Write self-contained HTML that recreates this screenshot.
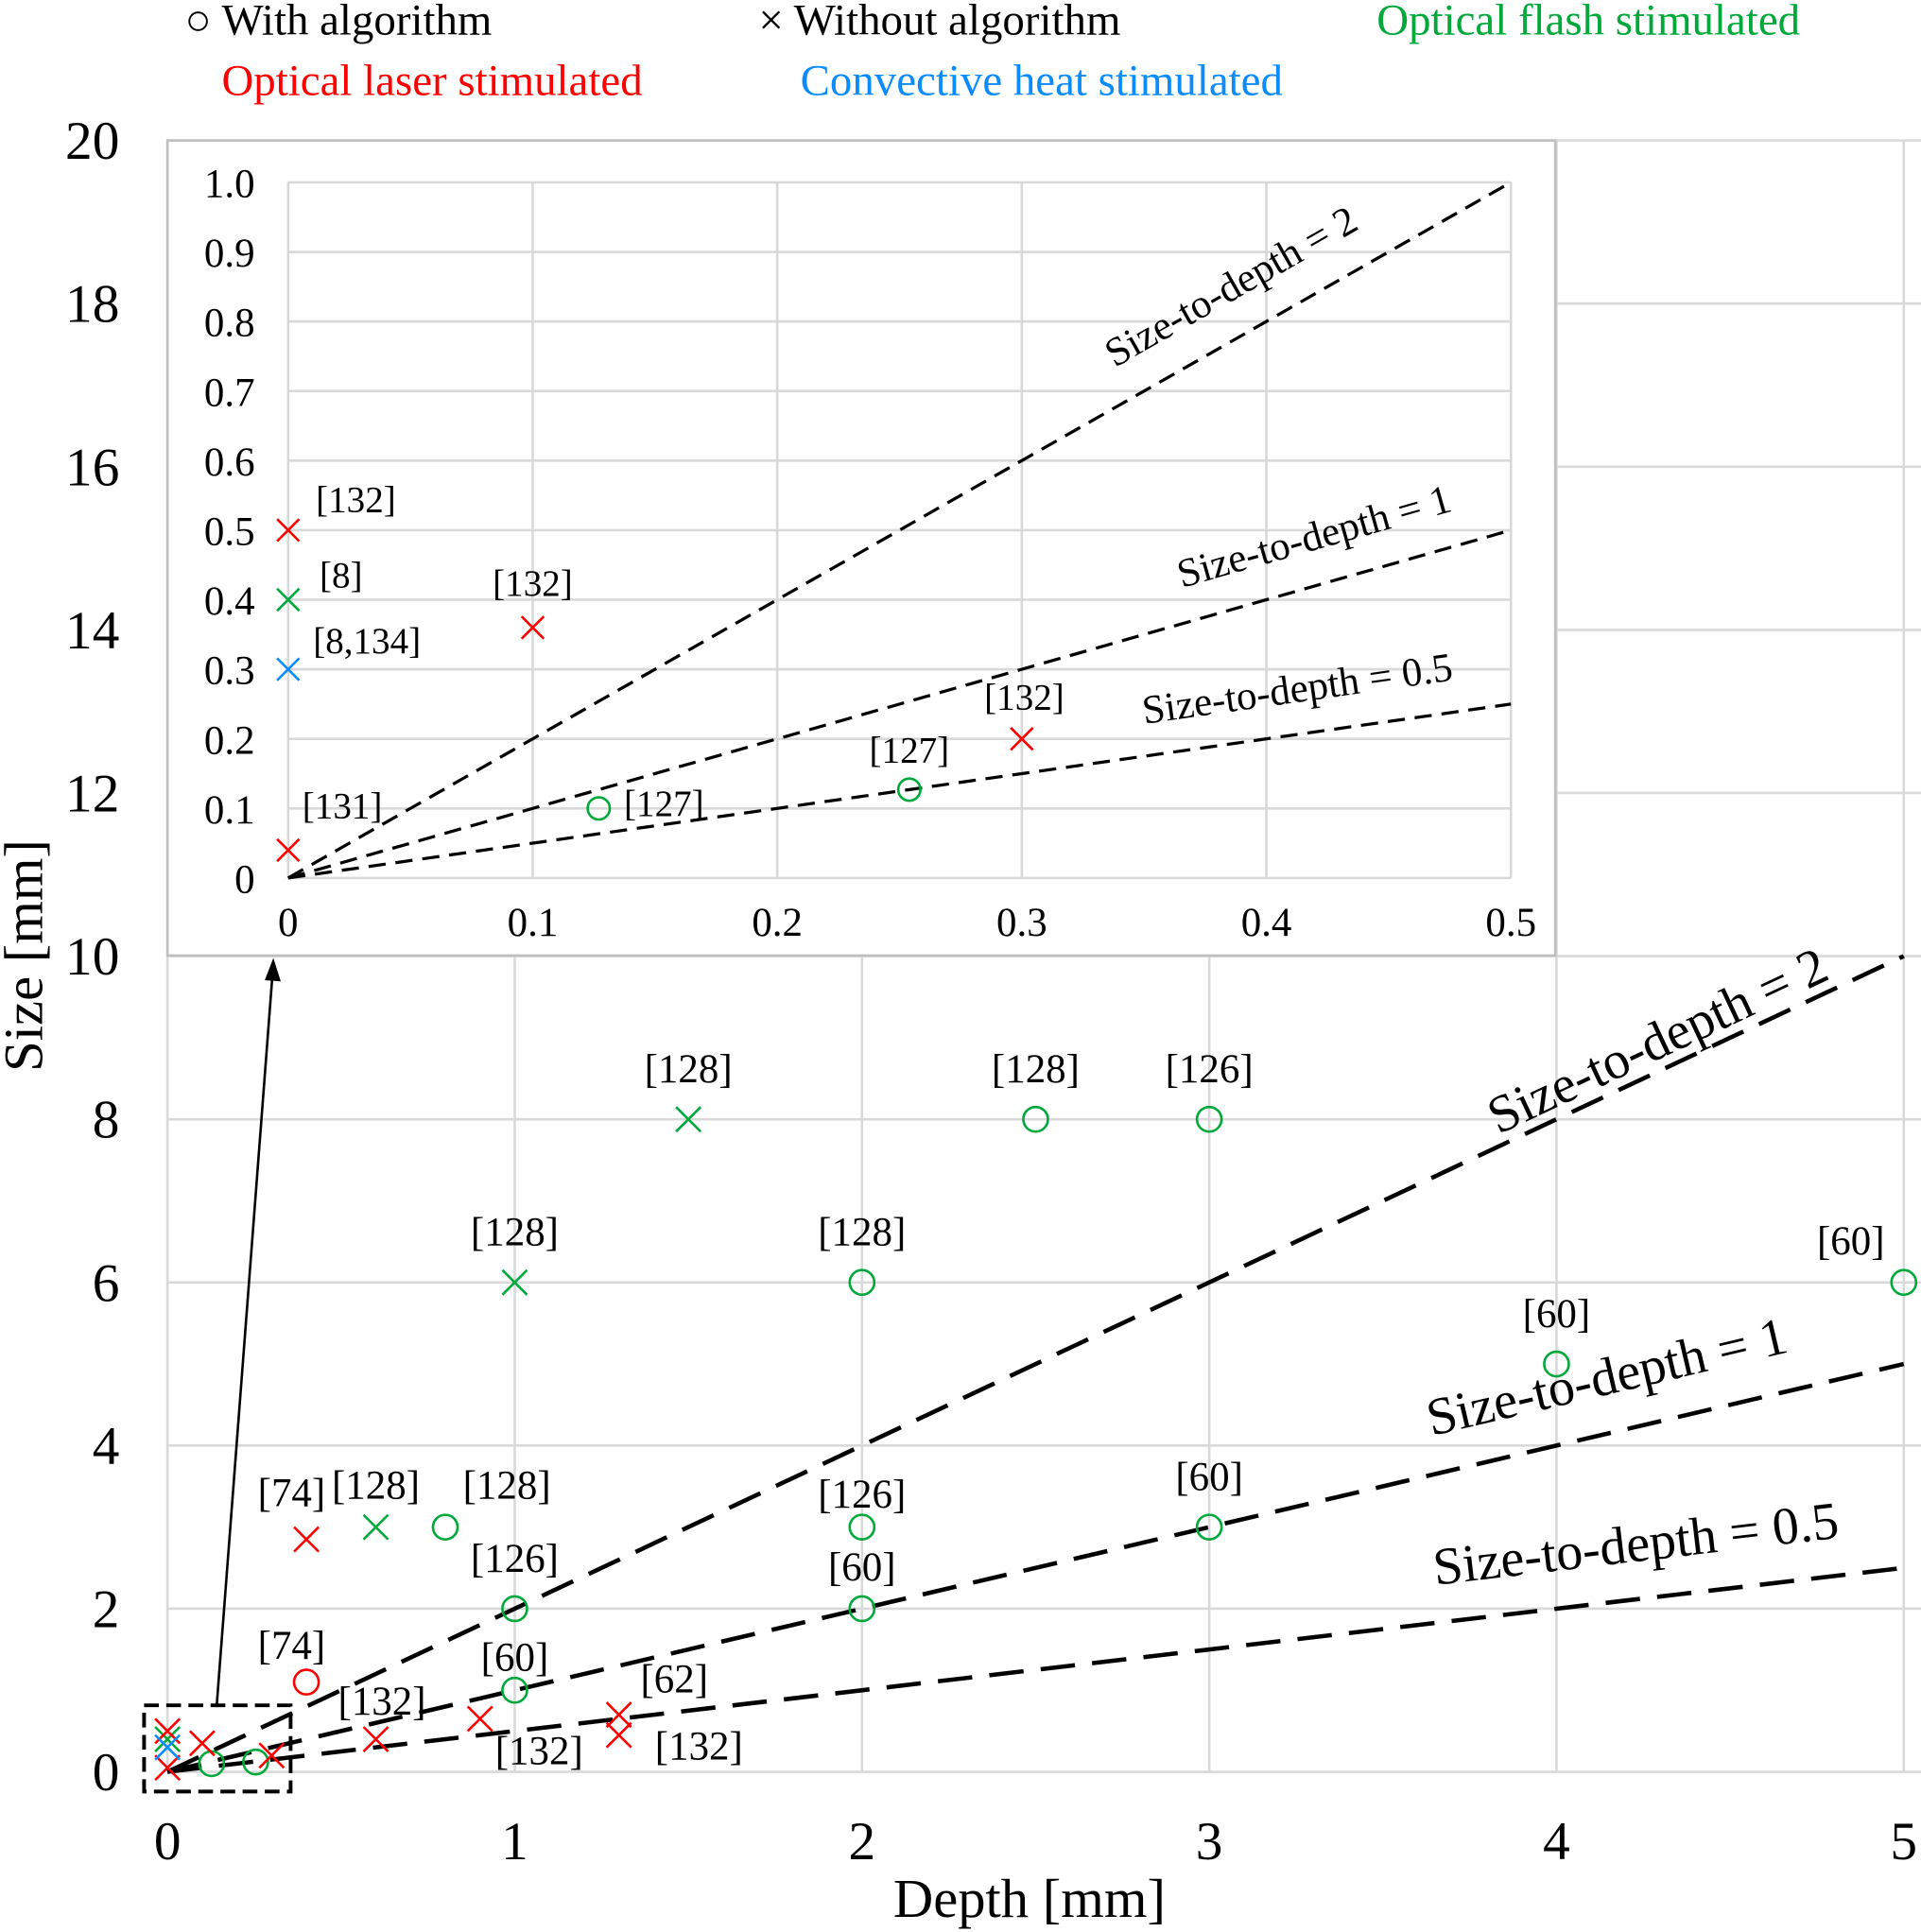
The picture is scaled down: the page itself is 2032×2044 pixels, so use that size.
<!DOCTYPE html>
<html><head><meta charset="utf-8"><style>
html,body{margin:0;padding:0;background:#fff}
svg{display:block;font-family:"Liberation Serif",serif}
</style></head><body>
<svg id="chart" width="2032" height="2044" viewBox="0 0 1560 1569" xmlns="http://www.w3.org/2000/svg">
<g font-size="36">
<text x="150" y="28">○ With algorithm</text>
<text x="616" y="28">× Without algorithm</text>
<text x="1118" y="28" fill="#00a93a">Optical flash stimulated</text>
<text x="180" y="77" fill="#ff0000">Optical laser stimulated</text>
<text x="650" y="77" fill="#0a8cff">Convective heat stimulated</text>
</g>
<g id="main"></g>
<g id="inset"></g>
</svg>
<script>
const NS="http://www.w3.org/2000/svg";
// main chart data
const mainXTicks=[0,1,2,3,4,5];
const mainYTicks=[0,2,4,6,8,10,12,14,16,18,20];
const ratios=[2,1,0.5];
const ratioLabels=["Size-to-depth = 2","Size-to-depth = 1","Size-to-depth = 0.5"];
const mDepth=[2.5,3,2,5,4,0.8,2,3,1,2,1,0.127,0.254,1.5,1,0.6,0,0.4,0.6,0.9,1.3,1.3,0.1,0.3,0,0,0.4,0];
const mSize=[8,8,6,6,5,3,3,3,2,2,1,0.1,0.12,8,6,3,0.4,2.85,0.4,0.65,0.7,0.45,0.35,0.2,0.5,0.05,1.1,0.3];
const mShape=["o","o","o","o","o","o","o","o","o","o","o","o","o","x","x","x","x","x","x","x","x","x","x","x","x","x","o","x"];
const mColor=["g","g","g","g","g","g","g","g","g","g","g","g","g","g","g","g","g","r","r","r","r","r","r","r","r","r","r","b"];
const mLabel=["[128]","[126]","[128]","[60]","[60]","[128]","[126]","[60]","[126]","[60]","[60]","","","[128]","[128]","[128]","","[74]","[132]","[132]","[62]","[132]","","","","","[74]",""];
const mLdx=[0,0,0,-43,0,50,0,0,0,0,0,0,0,0,0,0,0,-12,5,48,45,65,0,0,0,0,-12,0];
const mLdy=[-30,-30,-30,-23,-30,-23,-16,-30,-30,-23,-16,0,0,-30,-30,-23,0,-27,-20,37,-18,20,0,0,0,0,-19,0];
// inset data
const iXTicks=[0,0.1,0.2,0.3,0.4,0.5];
const iYTicks=[0,0.1,0.2,0.3,0.4,0.5,0.6,0.7,0.8,0.9,1.0];
const iYTickLabels=["0","0.1","0.2","0.3","0.4","0.5","0.6","0.7","0.8","0.9","1.0"];
const iDepth=[0,0,0,0,0.1,0.127,0.254,0.3];
const iSize=[0.5,0.4,0.3,0.04,0.36,0.1,0.127,0.2];
const iShape=["x","x","x","x","x","o","o","x"];
const iColor=["r","g","b","r","r","g","g","r"];
const iLabel=["[132]","[8]","[8,134]","[131]","[132]","[127]","[127]","[132]"];
const iLdx=[55,43,64,44,0,53,0,2];
const iLdy=[-15,-10,-13,-26,-26,6,-22,-24];

const COL={g:"#00a93a",r:"#ff0000",b:"#0a8cff"};
const mx=v=>136+v*282, my=v=>1439-v*66.25;
const ix=v=>234+v*1986, iy=v=>713-v*565;
function el(t,a,p,txt){const e=document.createElementNS(NS,t);for(const k in a)e.setAttribute(k,a[k]);if(txt!==undefined)e.textContent=txt;p.appendChild(e);return e;}
function marker(g,shape,x,y,c,r){
 if(shape==="o"){const e=el("circle",{cx:x,cy:y,r:r,fill:"none",stroke:c,"stroke-width":2},g);
 }
 else{const e=el("path",{d:`M${x-r} ${y-r}L${x+r} ${y+r}M${x-r} ${y+r}L${x+r} ${y-r}`,stroke:c,"stroke-width":2,fill:"none"},g);
 }
}
const M=document.getElementById("main");


mainYTicks.forEach(v=>{const l=el("line",{x1:136,x2:1560,y1:my(v),y2:my(v),stroke:"#d9d9d9","stroke-width":2},M);
 
 const t=el("text",{x:97,y:my(v)+15,"font-size":44,"text-anchor":"end"},M,String(v));
 });
mainXTicks.forEach(v=>{const l=el("line",{x1:mx(v),x2:mx(v),y1:114,y2:1439,stroke:"#d9d9d9","stroke-width":2},M);
 
 const t=el("text",{x:mx(v),y:1510,"font-size":44,"text-anchor":"middle"},M,String(v));
 });
let t=el("text",{x:836,y:1557,"font-size":45,"text-anchor":"middle"},M,"Depth [mm]");

t=el("text",{x:0,y:0,"font-size":45,"text-anchor":"middle",transform:"translate(34,776) rotate(-90)"},M,"Size [mm]");

const mLabPos=[[1352,858],[1308,1132],[1330,1268]];
ratios.forEach((r,i)=>{const l=el("line",{x1:mx(0),y1:my(0),x2:mx(5),y2:my(5*r),stroke:"#000","stroke-width":3.5,"stroke-dasharray":"28 14"},M);
 
 const ang=Math.atan2(my(5*r)-my(0),mx(5)-mx(0))*180/Math.PI;
 const tt=el("text",{x:mLabPos[i][0],y:mLabPos[i][1],"font-size":43,"text-anchor":"middle",transform:`rotate(${ang} ${mLabPos[i][0]} ${mLabPos[i][1]})`},M,ratioLabels[i]);
 });
mDepth.forEach((d,i)=>{const x=mx(d),y=my(mSize[i]);marker(M,mShape[i],x,y,COL[mColor[i]],10);
 if(mLabel[i]){const tt=el("text",{x:x+mLdx[i],y:y+mLdy[i],"font-size":33,"text-anchor":"middle"},M,mLabel[i]);
 }});
let b=el("rect",{x:117,y:1385,width:119,height:70,fill:"none",stroke:"#000","stroke-width":3,"stroke-dasharray":"12 6"},M);

b=el("line",{x1:176,y1:1385,x2:221,y2:795,stroke:"#000","stroke-width":2},M);

b=el("path",{d:"M222 778 L215 796 L228 797 Z",fill:"#000"},M);


const I=document.getElementById("inset");


b=el("rect",{x:136,y:114,width:1127,height:662,fill:"#fff",stroke:"#bfbfbf","stroke-width":2},I);

iYTicks.forEach((v,k)=>{const l=el("line",{x1:234,x2:1227,y1:iy(v),y2:iy(v),stroke:"#d9d9d9","stroke-width":2},I);
 
 const tt=el("text",{x:207,y:iy(v)+12,"font-size":33,"text-anchor":"end"},I,iYTickLabels[k]);
 });
iXTicks.forEach(v=>{const l=el("line",{x1:ix(v),x2:ix(v),y1:iy(1),y2:iy(0),stroke:"#d9d9d9","stroke-width":2},I);
 
 const tt=el("text",{x:ix(v),y:760,"font-size":33,"text-anchor":"middle"},I,String(v));
 });
const iLabPos=[[1005,242],[1070,446],[1055,570]];
ratios.forEach((r,i)=>{const l=el("line",{x1:ix(0),y1:iy(0),x2:ix(0.5),y2:iy(0.5*r),stroke:"#000","stroke-width":2.5,"stroke-dasharray":"14 8"},I);
 
 const ang=Math.atan2(iy(0.5*r)-iy(0),ix(0.5)-ix(0))*180/Math.PI;
 const tt=el("text",{x:iLabPos[i][0],y:iLabPos[i][1],"font-size":33,"text-anchor":"middle",transform:`rotate(${ang} ${iLabPos[i][0]} ${iLabPos[i][1]})`},I,ratioLabels[i]);
 });
iDepth.forEach((d,i)=>{const x=ix(d),y=iy(iSize[i]);marker(I,iShape[i],x,y,COL[iColor[i]],9);
 const tt=el("text",{x:x+iLdx[i],y:y+iLdy[i],"font-size":30,"text-anchor":"middle"},I,iLabel[i]);
 });
</script>
</body></html>
